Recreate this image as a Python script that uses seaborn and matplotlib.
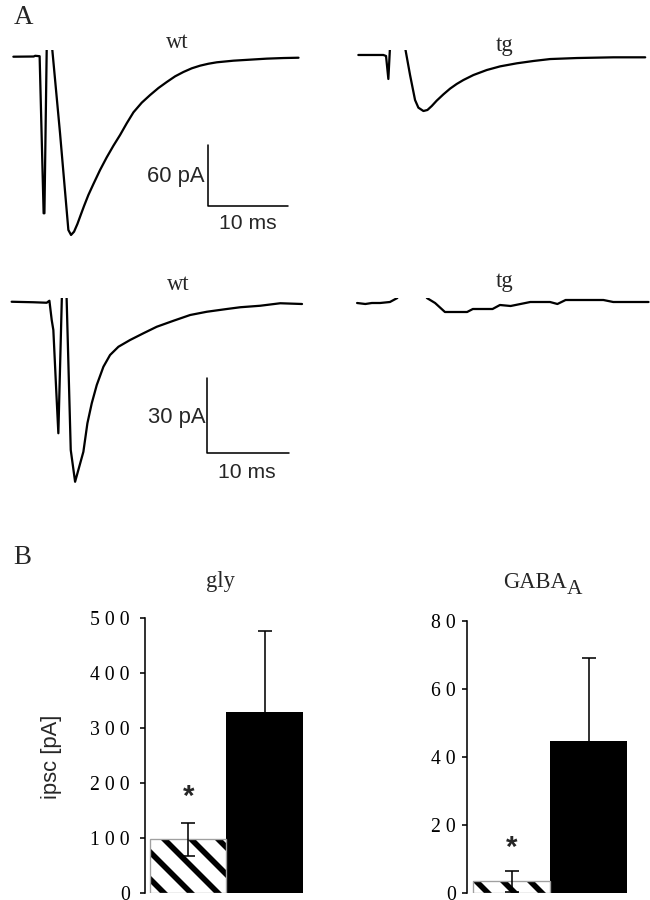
import matplotlib
matplotlib.use("Agg")
import matplotlib.pyplot as plt
import seaborn as sns

# --- panel A: example ipsc traces (time in ms, current in pA) ---
wt_gly_t = [1.67, 4.2, 4.4, 4.95, 5.45, 5.55, 5.85, 6.42, 7.5, 8.54, 8.875, 9.25, 9.67,
            10.08, 10.5, 11.04, 11.67, 12.5, 13.33, 14.17, 15.0, 15.83, 16.67, 17.71,
            18.75, 19.79, 20.83, 21.875, 22.92, 23.96, 25.0, 26.04, 27.08, 29.17,
            31.25, 33.33, 35.42, 37.29]
wt_gly_i = [0.3, 0.5, 1.2, 0.8, -153.7, -153.7, 16.7, 16.7, -75.0, -170.1, -175.0, -171.8,
            -164.2, -155.4, -146.5, -135.7, -124.9, -111.1, -98.7, -87.2, -76.7, -65.2,
            -54.4, -44.9, -37.4, -30.5, -24.6, -19.0, -14.7, -11.1, -8.5, -6.6, -5.2,
            -3.6, -2.6, -1.6, -1.0, -0.7]

tg_gly_t = [3.54, 6.67, 7.0, 7.29, 7.54, 9.21, 10.0, 10.625, 11.04, 11.67, 12.17, 12.71,
            13.33, 14.17, 15.0, 15.83, 16.67, 17.92, 19.58, 21.25, 23.33, 25.42, 27.5,
            30.83, 35.42, 39.375]
tg_gly_i = [2.0, 2.0, 1.0, -21.6, 16.7, 16.7, -17.7, -42.3, -49.8, -53.1, -52.1, -48.2,
            -42.9, -36.7, -31.1, -26.5, -22.6, -17.7, -12.8, -9.2, -6.2, -3.9, -2.0,
            -1.0, -0.3, -0.3]

wt_gaba_t = [1.42, 4.07, 5.69, 6.02, 6.3, 6.5, 6.83, 7.11, 7.56, 8.09, 8.62, 9.15, 10.16,
             10.65, 11.18, 11.79, 12.6, 13.41, 14.43, 15.85, 17.48, 19.1, 21.14, 23.17,
             25.2, 27.64, 29.27, 31.7, 34.15, 36.8]
wt_gaba_i = [0.1, -0.1, -0.3, 0.5, -7.2, -11.2, -33.9, -52.5, 4.8, 4.8, -59.2, -71.9,
             -59.9, -48.5, -40.5, -33.2, -25.9, -21.2, -17.9, -15.2, -12.5, -9.9, -7.5,
             -5.2, -3.9, -2.8, -2.1, -1.5, -0.5, -0.8]

tg_gaba_t = [3.3, 4.3, 5.1, 6.1, 7.3, 8.2, 8.5, 11.5, 11.8, 12.8, 14.0, 16.7, 17.4,
             19.8, 20.7, 22.0, 24.4, 26.8, 27.7, 28.7, 33.3, 34.5, 36.6, 38.8]
tg_gaba_i = [-0.4, -0.8, -0.4, -0.4, 0, 1.6, 6.8, 6.8, 1.6, -0.4, -4, -4, -2.8,
             -2.8, -1.2, -1.6, 0, 0, -0.8, 0.8, 0.8, 0, 0, 0]

# --- panel B: mean ipsc amplitudes ---
groups = ["tg", "wt"]
gly_mean = [98, 329]
gly_err = [30, 147]
gaba_mean = [3.4, 44.7]
gaba_err = [3.2, 24.3]
gly_ticks = [0, 100, 200, 300, 400, 500]
gly_ticklabels = ["0", "1 0 0", "2 0 0", "3 0 0", "4 0 0", "5 0 0"]
gaba_ticks = [0, 20, 40, 60, 80]
gaba_ticklabels = ["0", "2 0", "4 0", "6 0", "8 0"]

W, H, DPI = 651, 900, 162
sns.set_style("white")
plt.rcParams["font.family"] = ["Liberation Serif", "DejaVu Serif"]
plt.rcParams["hatch.linewidth"] = 2.5

fig = plt.figure(figsize=(W / DPI, H / DPI), dpi=DPI)


def box(l, t, r, b):
    return [l / W, 1 - b / H, (r - l) / W, (b - t) / H]


def ftext(x, y, s, ha="center", **kw):
    fig.text(x / W, 1 - y / H, s, ha=ha, va="center", **kw)


sans = "Liberation Sans"

# traces
traces = [
    (box(0, 50, 325, 250), wt_gly_t, wt_gly_i, (0, 40.6), (-189.8, 6.9)),
    (box(330, 50, 651, 250), tg_gly_t, tg_gly_i, (0, 40.1), (-189.8, 6.9)),
    (box(0, 298, 325, 498), wt_gaba_t, wt_gaba_i, (0, 39.6), (-78.4, 1.6)),
    (box(330, 298, 651, 498), tg_gaba_t, tg_gaba_i, (0, 39.1), (-78.4, 1.6)),
]
trace_axes = []
for rect, t, i, xl, yl in traces:
    ax = fig.add_axes(rect)
    sns.lineplot(x=t, y=i, ax=ax, color="black", lw=1.0, sort=False, estimator=None)
    ax.set_xlim(*xl)
    ax.set_ylim(*yl)
    ax.axis("off")
    trace_axes.append(ax)

# scale bars
ax = trace_axes[0]
ax.plot([26.0, 26.0, 36.0], [-86.5, -146.5, -146.5], color="black", lw=0.7)
ax.text(25.6, -118, "60 pA", ha="right", va="center", family=sans, fontsize=9.8)
ax.text(31.0, -164, "10 ms", ha="center", va="center", family=sans, fontsize=9.4)
ax = trace_axes[2]
ax.plot([25.2, 25.2, 35.2], [-30.4, -60.4, -60.4], color="black", lw=0.7)
ax.text(25.0, -46, "30 pA", ha="right", va="center", family=sans, fontsize=9.8)
ax.text(30.1, -68, "10 ms", ha="center", va="center", family=sans, fontsize=9.4)

ftext(23, 17, "A", fontsize=12)
ftext(22, 557, "B", fontsize=12)
ftext(177, 43, "wt", fontsize=10)
ftext(505, 46, "tg", fontsize=10)
ftext(178, 285, "wt", fontsize=10)
ftext(505, 282, "tg", fontsize=10)

# bar charts
bars = [
    (box(145, 618, 303, 893), gly_mean, gly_err, gly_ticks, gly_ticklabels, 500, -0.565, 4.4, 175),
    (box(467, 621, 627, 893), gaba_mean, gaba_err, gaba_ticks, gaba_ticklabels, 80, -0.578, 2.7, 13.2),
]
bar_axes = []
for rect, mean, err, ticks, labels, top, xleft, pad, star_y in bars:
    ax = fig.add_axes(rect)
    sns.barplot(x=groups, y=mean, hue=groups, palette=["white", "black"], width=1.0,
                errorbar=None, legend=False, ax=ax, linewidth=0, edgecolor="black")
    hp = ax.patches[0]
    hp.set_hatch("\\\\")
    hp.set_edgecolor("black")
    hp.set_linewidth(0)
    ax.bar([0], [mean[0]], width=1.0, fill=False, edgecolor="#a0a0a0", lw=0.6, zorder=3)
    ax.errorbar(range(len(groups)), mean, yerr=err, fmt="none", ecolor="black",
                elinewidth=0.7, capsize=3.2, capthick=0.7, zorder=4)
    ax.text(0, star_y, "*", ha="center", va="center", family=sans,
            fontweight="bold", fontsize=13)
    ax.set_xlim(xleft, 1.5)
    ax.set_ylim(0, top)
    ax.set_yticks(ticks)
    ax.set_yticklabels(labels)
    ax.set_xticks([])
    ax.set_xlabel("")
    for s in ["top", "right", "bottom"]:
        ax.spines[s].set_visible(False)
    ax.spines["left"].set_color("black")
    ax.spines["left"].set_linewidth(0.7)
    ax.tick_params(axis="y", direction="out", length=2.3, width=0.7, pad=pad,
                   labelsize=8.8, left=True, colors="black")
    bar_axes.append(ax)

bar_axes[0].set_ylabel("ipsc [pA]", family=sans, fontsize=9.8)
bar_axes[0].yaxis.set_label_coords(-0.525, 0.495)
bar_axes[1].set_ylabel("")
ftext(220, 582, "gly", fontsize=10)
ftext(567, 583, "GABA", ha="right", fontsize=10)
ftext(567, 590, "A", ha="left", fontsize=9.5)

fig.savefig("out.png", dpi=DPI)
